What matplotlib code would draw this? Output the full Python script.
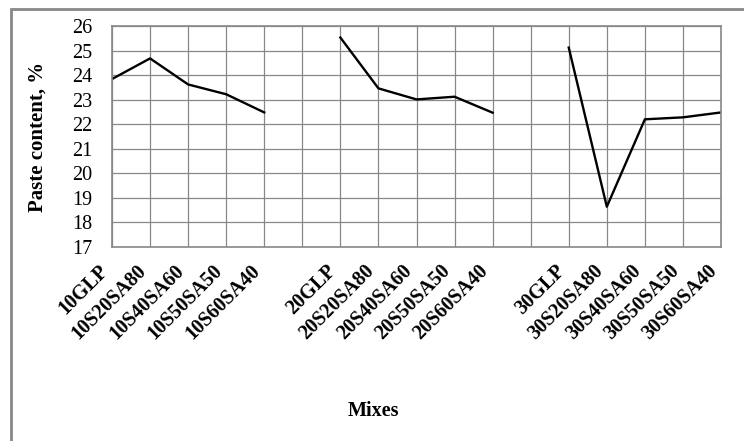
import matplotlib.pyplot as plt
import matplotlib.patches as patches
import numpy as np

# mixes, with an empty slot between the groups
mixes = ["10GLP", "10S20SA80", "10S40SA60", "10S50SA50", "10S60SA40", "",
         "20GLP", "20S20SA80", "20S40SA60", "20S50SA50", "20S60SA40", "",
         "30GLP", "30S20SA80", "30S40SA60", "30S50SA50", "30S60SA40"]
paste = [23.84, 24.68, 23.62, 23.22, 22.48, np.nan,
         25.53, 23.46, 23.01, 23.12, 22.47, np.nan,
         25.12, 18.64, 22.20, 22.28, 22.48]
yticks = list(range(17, 27))

plt.rcParams['font.family'] = ['Liberation Serif', 'DejaVu Serif']

fig = plt.figure(figsize=(7.44, 4.41), dpi=100)
ax = fig.add_axes([112/744, 1-247/441, (721-112)/744, (247-26)/441])

x = np.arange(len(mixes))
ax.plot(x, paste, color="black", lw=1.7)

ax.set_xlim(0, len(mixes)-1)
ax.set_ylim(17, 26)
ax.set_yticks(yticks)
ax.set_xticks(x)
ax.set_xticklabels(mixes, rotation=45, ha="right", va="top",
                   fontsize=14.5, fontweight="bold")
ax.tick_params(axis="x", length=0, pad=10)
ax.tick_params(axis="y", length=0, pad=14, labelsize=14.5)

ax.grid(True, color="#888888", lw=0.9)
ax.set_axisbelow(True)
for s in ax.spines.values():
    s.set_color("#888888")
    s.set_linewidth(1.2)

ax.set_ylabel("Paste content, %", fontsize=15, fontweight="bold")
ax.yaxis.set_label_coords(-0.105, 0.5)
fig.text(373/744, 1-411/441, "Mixes", ha="center", va="center",
         fontsize=14.5, fontweight="bold")

# outer frame (only left and top visible)
fig.patches.append(patches.Rectangle((11/744, -0.1), 1.2, 1-9/441+0.1,
                                     transform=fig.transFigure, fill=False,
                                     edgecolor="#888888", lw=2))

fig.savefig("out.png", dpi=100)
